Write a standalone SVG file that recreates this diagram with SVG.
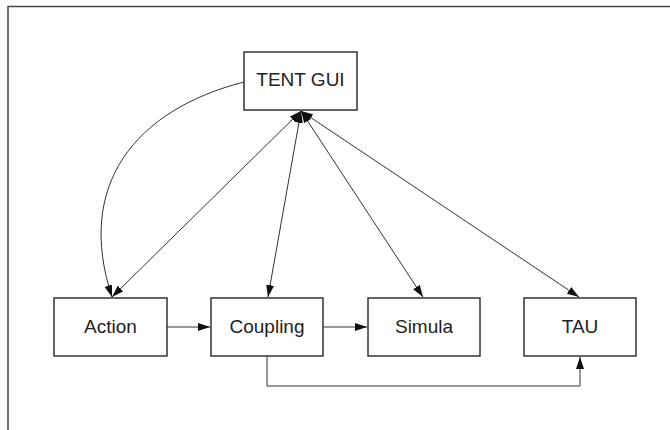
<svg xmlns="http://www.w3.org/2000/svg" width="670" height="430" viewBox="0 0 670 430">
<defs>
<style>
.box{fill:#fff;stroke:#333;stroke-width:1.5}
.lbl{font-family:"Liberation Sans",Arial,sans-serif;font-size:19px;fill:#222;text-anchor:middle}
.con{fill:none;stroke:#333;stroke-width:1}
</style>
<marker id="ah" viewBox="0 0 12 8" refX="12" refY="4" markerWidth="12" markerHeight="8" markerUnits="userSpaceOnUse" orient="auto-start-reverse">
<path d="M0,0 L12,4 L0,8 Z" fill="#111"/>
</marker>
</defs>
<rect width="670" height="430" fill="#fff"/>
<path d="M8,430 V6.5 H670" fill="none" stroke="#444" stroke-width="1.5"/>
<g id="connectors">
<path class="con" d="M244,82 C135,110 75,185 112,297" marker-end="url(#ah)"/>
<path class="con" d="M301,111 L112,297" marker-start="url(#ah)" marker-end="url(#ah)"/>
<path class="con" d="M301,111 L268,297" marker-start="url(#ah)" marker-end="url(#ah)"/>
<path class="con" d="M301,111 L423,297" marker-start="url(#ah)" marker-end="url(#ah)"/>
<path class="con" d="M301,111 L579,297" marker-start="url(#ah)" marker-end="url(#ah)"/>
<path class="con" d="M167,327 H210" marker-end="url(#ah)"/>
<path class="con" d="M323,327 H367" marker-end="url(#ah)"/>
<path class="con" d="M267,356 V386 H580 V357" marker-end="url(#ah)"/>
</g>
<g id="tent-gui"><rect class="box" x="244" y="52" width="113" height="58"/><text class="lbl" x="300.5" y="86">TENT GUI</text></g>
<g id="action"><rect class="box" x="54" y="298" width="113" height="58"/><text class="lbl" x="110.5" y="333">Action</text></g>
<g id="coupling"><rect class="box" x="211" y="298" width="112" height="58"/><text class="lbl" x="267" y="333">Coupling</text></g>
<g id="simula"><rect class="box" x="368" y="298" width="112" height="58"/><text class="lbl" x="424" y="333">Simula</text></g>
<g id="tau"><rect class="box" x="524" y="298" width="112" height="58"/><text class="lbl" x="580" y="333">TAU</text></g>
</svg>
